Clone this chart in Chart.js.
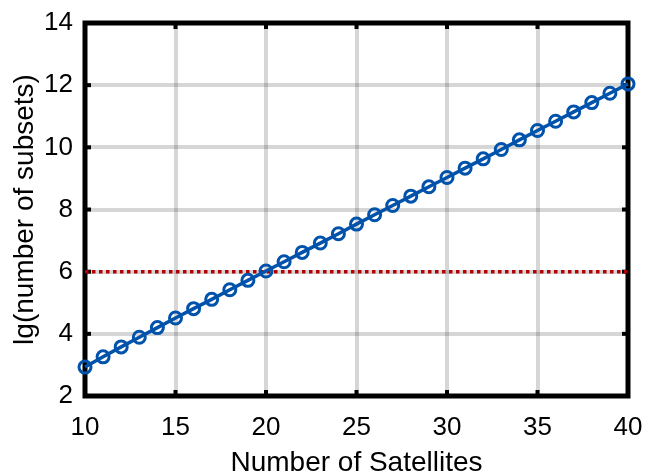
<!DOCTYPE html>
<html>
<head>
<meta charset="utf-8">
<script src="https://cdn.jsdelivr.net/npm/chart.js@4/dist/chart.umd.min.js"></script>
<style>
  html, body { margin: 0; padding: 0; background: #ffffff; }
  #wrap { width: 646px; height: 476px; }
</style>
</head>
<body>
<div id="wrap"><canvas id="c" width="646" height="476"></canvas></div>
<script>
// Number of satellites in the constellation
const satellites = [10, 11, 12, 13, 14, 15, 16, 17, 18, 19, 20, 21, 22, 23, 24, 25,
                    26, 27, 28, 29, 30, 31, 32, 33, 34, 35, 36, 37, 38, 39, 40];
// log10 of the number of candidate subsets
const lgSubsets = [2.93, 3.26, 3.58, 3.89, 4.20, 4.51, 4.81, 5.11, 5.42, 5.72, 6.02,
                   6.32, 6.62, 6.92, 7.22, 7.53, 7.83, 8.13, 8.43, 8.73, 9.03,
                   9.33, 9.63, 9.93, 10.24, 10.54, 10.84, 11.14, 11.44, 11.74, 12.04];
// Reference threshold line
const thresholdX = [10, 40];
const thresholdY = [6, 6];
// Axis ticks
const xTicks = [10, 15, 20, 25, 30, 35, 40];
const yTicks = [2, 4, 6, 8, 10, 12, 14];

const FONT = "'Liberation Sans', Arial, Helvetica, sans-serif";

// Thick box frame with inward tick marks on all four sides
const boxFrame = {
  id: 'boxFrame',
  beforeDatasetsDraw(chart) {
    const { ctx, chartArea: a, scales } = chart;
    ctx.save();
    ctx.strokeStyle = '#000';
    ctx.fillStyle = '#000';
    const tl = 6, tw = 4;
    xTicks.forEach(v => {
      const px = scales.x.getPixelForValue(v);
      ctx.fillRect(px - tw / 2, a.bottom - tl, tw, tl);
      ctx.fillRect(px - tw / 2, a.top, tw, tl);
    });
    yTicks.forEach(v => {
      const py = scales.y.getPixelForValue(v);
      ctx.fillRect(a.left, py - tw / 2, tl, tw);
      ctx.fillRect(a.right - tl, py - tw / 2, tl, tw);
    });
    ctx.lineWidth = 5;
    ctx.lineJoin = 'miter';
    ctx.strokeRect(a.left, a.top, a.right - a.left, a.bottom - a.top);
    ctx.restore();
  }
};

// Fixed axis box sizes; the outer margins come from layout.padding only
function fixBox(size, dim) {
  return s => {
    s[dim] = size;
    s.paddingLeft = 0; s.paddingRight = 0; s.paddingTop = 0; s.paddingBottom = 0;
  };
}

new Chart(document.getElementById('c'), {
  type: 'line',
  data: {
    datasets: [
      {
        data: thresholdX.map((x, i) => ({ x, y: thresholdY[i] })),
        borderColor: '#b40000',
        borderWidth: 3.5,
        borderDash: [3.5, 3.5],
        pointRadius: 0,
        fill: false,
        clip: false,
        order: 2
      },
      {
        data: satellites.map((x, i) => ({ x, y: lgSubsets[i] })),
        borderColor: '#0052aa',
        borderWidth: 3.5,
        pointRadius: 6,
        pointBorderWidth: 3,
        pointBorderColor: '#0052aa',
        pointBackgroundColor: 'rgba(0,0,0,0)',
        tension: 0,
        fill: false,
        clip: false,
        order: 1
      }
    ]
  },
  options: {
    responsive: false,
    animation: false,
    events: [],
    layout: { padding: { left: 0, top: 23, right: 18, bottom: 0 } },
    plugins: { legend: { display: false }, tooltip: { enabled: false } },
    scales: {
      x: {
        type: 'linear',
        min: 10, max: 40,
        afterFit: fixBox(80, 'height'),
        afterBuildTicks(s) { s.ticks = xTicks.map(v => ({ value: v })); },
        border: { display: false },
        grid: { color: 'rgba(0,0,0,0.16)', lineWidth: 4, drawTicks: false },
        ticks: { color: '#000', padding: 16, maxRotation: 0, font: { family: FONT, size: 26 } },
        title: { display: true, text: 'Number of Satellites', color: '#000',
                 padding: { top: 0, bottom: -4 }, font: { family: FONT, size: 28 } }
      },
      y: {
        type: 'linear',
        min: 2, max: 14,
        afterFit: fixBox(85, 'width'),
        afterBuildTicks(s) { s.ticks = yTicks.map(v => ({ value: v })); },
        border: { display: false },
        grid: { color: 'rgba(0,0,0,0.16)', lineWidth: 4, drawTicks: false },
        ticks: { color: '#000', padding: 12, font: { family: FONT, size: 26 } },
        title: { display: true, text: 'lg(number of subsets)', color: '#000',
                 padding: { top: 8, bottom: 0 }, font: { family: FONT, size: 28 } }
      }
    }
  },
  plugins: [boxFrame]
});
</script>
</body>
</html>
